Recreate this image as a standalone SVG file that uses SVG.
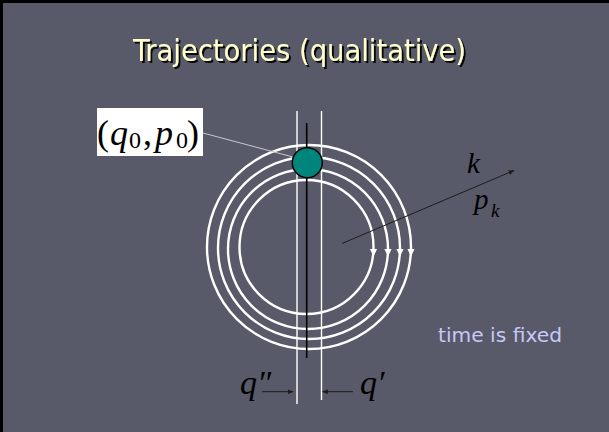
<svg xmlns="http://www.w3.org/2000/svg" width="609" height="432" viewBox="0 0 609 432">
  <defs>
    <style>
      .orbit { fill: none; stroke: #ffffff; stroke-width: 2.4; }
      .vline { stroke: #ffffff; stroke-width: 1.4; }
      .thin { stroke: #1c1c1c; stroke-width: 1; fill: none; }
      .math { font-family: "Liberation Serif", "Times New Roman", serif; fill: #000000; }
      .it { font-style: italic; }
      .title { font-family: "DejaVu Sans Condensed", "DejaVu Sans", Tahoma, sans-serif; font-size: 31px; }
    </style>
    <filter id="shadow" x="-5%" y="-20%" width="110%" height="150%">
      <feDropShadow dx="2" dy="2" stdDeviation="0.4" flood-color="#000000" flood-opacity="0.9"/>
    </filter>
    <marker id="ah" viewBox="0 0 10 10" refX="9" refY="5" markerWidth="6" markerHeight="6" orient="auto" markerUnits="userSpaceOnUse">
      <path d="M0,1 L10,5 L0,9 z" fill="#1c1c1c"/>
    </marker>
    <path id="tri" d="M-3.6,0 L3.6,0 L0,7.5 z" fill="#ffffff"/>
  </defs>

  <rect x="0" y="0" width="609" height="432" fill="#585a6a"/>
  <path d="M1.5,432 L1.5,1.5 L609,1.5" fill="none" stroke="#000000" stroke-width="3"/>

  <g id="title">
    <text class="title" x="133" y="61" fill="#ffffcc" filter="url(#shadow)" textLength="333" lengthAdjust="spacingAndGlyphs">Trajectories (qualitative)</text>
  </g>

  <g id="orbits">
    <circle class="orbit" cx="309" cy="247" r="102"/>
    <circle class="orbit" cx="309" cy="248" r="91"/>
    <circle class="orbit" cx="308" cy="249" r="80"/>
    <circle class="orbit" cx="306.5" cy="247" r="67"/>
    <use href="#tri" x="411" y="249"/>
    <use href="#tri" x="400" y="249"/>
    <use href="#tri" x="388" y="249"/>
    <use href="#tri" x="373.5" y="249"/>
  </g>

  <g id="section-lines">
    <line class="vline" x1="297" y1="111" x2="297" y2="404" stroke="#e6e6e6"/>
    <line class="vline" x1="321.5" y1="111" x2="321.5" y2="400"/>
    <line x1="306.7" y1="123" x2="306.7" y2="358" stroke="#000000" stroke-width="1.6"/>
  </g>

  <g id="connectors">
    <line x1="203" y1="133" x2="293" y2="157" stroke="#c8c8cc" stroke-width="1"/>
    <line class="thin" x1="342" y1="243.5" x2="514" y2="170.5" marker-end="url(#ah)"/>
    <line class="thin" x1="262" y1="391.7" x2="293" y2="391.7" marker-end="url(#ah)"/>
    <line class="thin" x1="353" y1="391.7" x2="322.5" y2="391.7" marker-end="url(#ah)"/>
  </g>

  <g id="point-q0p0">
    <circle cx="307.3" cy="162.7" r="15" fill="#00857c" stroke="#000000" stroke-width="1.5"/>
  </g>

  <g id="label-q0p0">
    <rect x="97" y="108" width="106" height="48" fill="#ffffff"/>
    <text class="math" font-size="36" y="145">
      <tspan x="97">(</tspan><tspan x="110" class="it">q</tspan><tspan x="129" y="148" font-size="24">0</tspan><tspan x="143" y="145">,</tspan><tspan x="155" class="it">p</tspan><tspan x="176" y="148" font-size="24">0</tspan><tspan x="187" y="145">)</tspan>
    </text>
  </g>

  <g id="label-k">
    <text class="math it" font-size="29" x="467" y="173">k</text>
    <text class="math" font-size="29" y="209"><tspan x="474" class="it">p</tspan><tspan x="491" y="217" font-size="19" class="it">k</tspan></text>
  </g>

  <g id="label-q2">
    <text class="math it" font-size="34" x="240" y="394">q″</text>
  </g>
  <g id="label-q1">
    <text class="math it" font-size="34" x="360" y="394">q′</text>
  </g>

  <g id="note">
    <text x="438" y="342" font-family="DejaVu Sans Condensed, DejaVu Sans, Tahoma, sans-serif" font-size="20" fill="#c8c8f4" textLength="124" lengthAdjust="spacingAndGlyphs">time is fixed</text>
  </g>
</svg>
